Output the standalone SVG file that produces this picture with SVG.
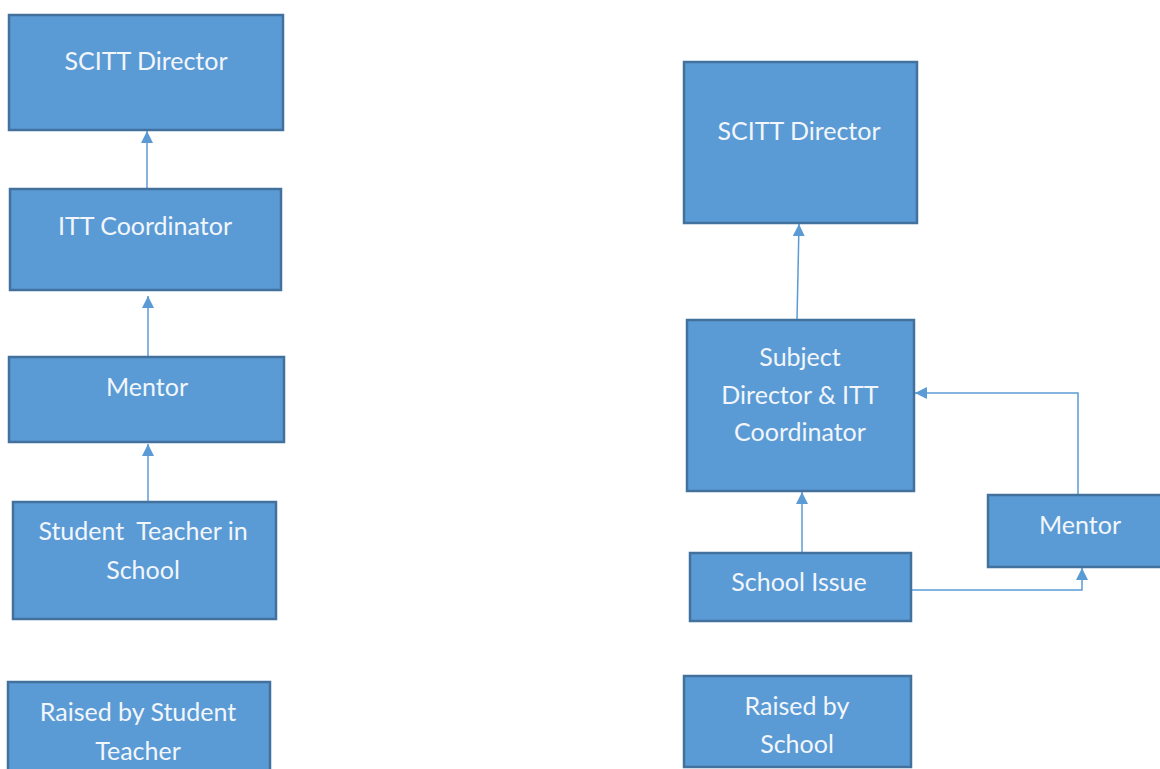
<svg xmlns="http://www.w3.org/2000/svg" width="1160" height="769" viewBox="0 0 1160 769">
<defs>
<style>
.box{fill:#5B9BD5;stroke:#41719C;stroke-width:2.5}
.lbl{font-family:Lato,"Open Sans","Liberation Sans",sans-serif;font-size:25px;fill:#F2F6FB;text-anchor:middle}
.con{fill:none;stroke:#5B9BD5;stroke-width:1.5}
</style>
<marker id="ah" viewBox="0 0 10 10" refX="10" refY="5" markerWidth="12" markerHeight="12" markerUnits="userSpaceOnUse" orient="auto">
<path d="M0,0 L10,5 L0,10 z" fill="#5B9BD5"/>
</marker>
</defs>
<rect width="1160" height="769" fill="#FFFFFF"/>
<g id="connectors">
<line class="con" x1="147" y1="189" x2="147" y2="131" marker-end="url(#ah)"/>
<line class="con" x1="148" y1="357" x2="148" y2="296" marker-end="url(#ah)"/>
<line class="con" x1="148" y1="502" x2="148" y2="444" marker-end="url(#ah)"/>
<line class="con" x1="797" y1="320" x2="799" y2="224" marker-end="url(#ah)"/>
<line class="con" x1="802" y1="553" x2="802" y2="492" marker-end="url(#ah)"/>
<polyline class="con" points="1078,495 1078,393 915,393" marker-end="url(#ah)"/>
<polyline class="con" points="911,590 1082,590 1082,568" marker-end="url(#ah)"/>
</g>
<g id="left-scitt-director">
<rect class="box" x="9" y="15" width="274" height="115"/>
<text class="lbl" x="146" y="70">SCITT Director</text>
</g>
<g id="left-itt-coordinator">
<rect class="box" x="10" y="189" width="271" height="101"/>
<text class="lbl" x="145" y="235">ITT Coordinator</text>
</g>
<g id="left-mentor">
<rect class="box" x="9" y="357" width="275" height="85"/>
<text class="lbl" x="147" y="396">Mentor</text>
</g>
<g id="left-student-teacher">
<rect class="box" x="13" y="502" width="263" height="117"/>
<text class="lbl" x="143" y="540" xml:space="preserve">Student  Teacher in</text>
<text class="lbl" x="143" y="579">School</text>
</g>
<g id="left-raised-by">
<rect class="box" x="8" y="682" width="262" height="95"/>
<text class="lbl" x="138" y="721">Raised by Student</text>
<text class="lbl" x="138" y="760">Teacher</text>
</g>
<g id="right-scitt-director">
<rect class="box" x="684" y="62" width="233" height="161"/>
<text class="lbl" x="799" y="140">SCITT Director</text>
</g>
<g id="right-subject-director">
<rect class="box" x="687" y="320" width="227" height="171"/>
<text class="lbl" x="800" y="366">Subject</text>
<text class="lbl" x="800" y="404">Director &amp; ITT</text>
<text class="lbl" x="800" y="441">Coordinator</text>
</g>
<g id="right-mentor">
<rect class="box" x="988" y="495" width="185" height="72"/>
<text class="lbl" x="1080" y="534">Mentor</text>
</g>
<g id="right-school-issue">
<rect class="box" x="690" y="553" width="221" height="68"/>
<text class="lbl" x="799" y="591">School Issue</text>
</g>
<g id="right-raised-by">
<rect class="box" x="684" y="676" width="227" height="91"/>
<text class="lbl" x="797" y="715">Raised by</text>
<text class="lbl" x="797" y="753">School</text>
</g>
</svg>
